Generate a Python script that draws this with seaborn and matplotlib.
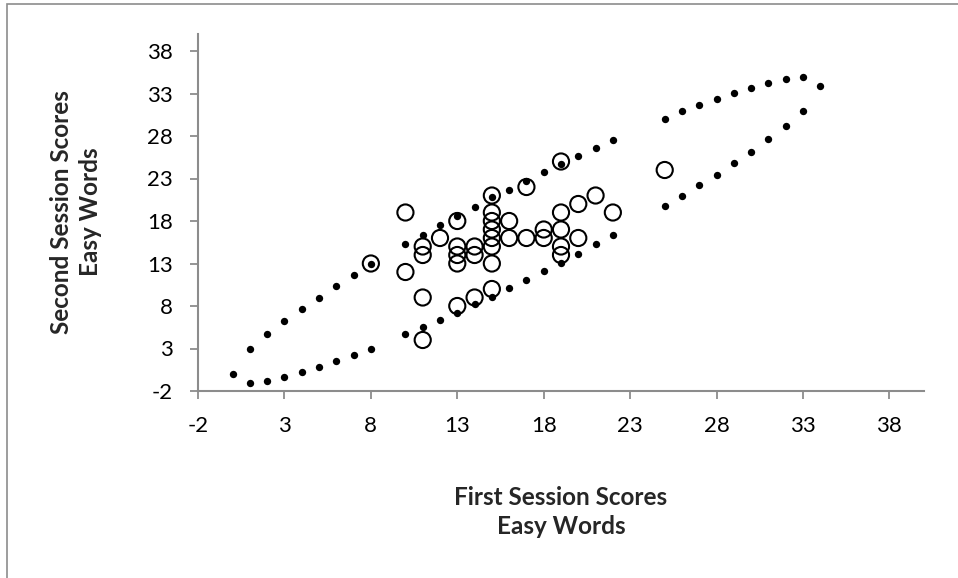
import matplotlib
matplotlib.use("Agg")
import matplotlib.pyplot as plt
from matplotlib.patches import Rectangle
import pandas as pd
import seaborn as sns

# Observed scores (open circles)
first_session = [8, 10, 10, 11, 11, 11, 11, 12, 13, 13, 13, 13, 13, 14, 14, 14,
                 15, 15, 15, 15, 15, 15, 15, 15, 16, 16, 17, 17, 18, 18,
                 19, 19, 19, 19, 19, 20, 20, 21, 22, 25]
second_session = [13, 19, 12, 15, 14, 9, 4, 16, 18, 15, 14, 13, 8, 15, 14, 9,
                  21, 19, 18, 17, 16, 15, 13, 10, 18, 16, 22, 16, 17, 16,
                  25, 19, 17, 15, 14, 20, 16, 21, 19, 24]

# Confidence ellipse (small filled dots)
ellipse_x = [1, 2, 3, 4, 5, 6, 7, 8, 10, 11, 12, 13, 14, 15, 16, 17, 18, 19,
             20, 21, 22, 25, 26, 27, 28, 29, 30, 31, 32, 33]
ellipse_upper = [2.9, 4.7, 6.2, 7.7, 9.0, 10.3, 11.6, 12.9, 15.3, 16.4, 17.5,
                 18.6, 19.7, 20.8, 21.7, 22.7, 23.8, 24.7, 25.7, 26.6, 27.5,
                 30.0, 30.9, 31.7, 32.4, 33.1, 33.7, 34.2, 34.7, 34.9]
ellipse_lower = [-1.0, -0.8, -0.4, 0.2, 0.8, 1.5, 2.2, 3.0, 4.7, 5.5, 6.3,
                 7.2, 8.2, 9.1, 10.1, 11.1, 12.1, 13.1, 14.1, 15.3, 16.4,
                 19.8, 21.0, 22.2, 23.4, 24.8, 26.1, 27.6, 29.2, 30.9]
ellipse_end_x = [0, 34]
ellipse_end_y = [0.0, 33.9]

x_ticks = [-2, 3, 8, 13, 18, 23, 28, 33, 38]
y_ticks = [-2, 3, 8, 13, 18, 23, 28, 33, 38]

sns.set_theme(style="white")
plt.rcParams['font.family'] = ['Lato', 'DejaVu Sans']

W, H = 958, 578
fig = plt.figure(figsize=(W / 100, H / 100), dpi=100)
ax = fig.add_axes([198 / W, 1 - 391 / H, (924 - 198) / W, (391 - 34) / H])

scores = pd.DataFrame({"first": first_session, "second": second_session})
ell = pd.DataFrame({
    "x": ellipse_x + ellipse_x + ellipse_end_x,
    "y": ellipse_upper + ellipse_lower + ellipse_end_y,
})

sns.scatterplot(data=scores, x="first", y="second", ax=ax, marker="o",
                s=135, facecolor="none", edgecolor="black", linewidth=1.5,
                zorder=3)
sns.scatterplot(data=ell, x="x", y="y", ax=ax, marker="o", s=28,
                color="black", edgecolor="black", linewidth=0, zorder=4)

ax.set_xlim(-2, 40)
ax.set_ylim(-2, 40)
ax.set_xticks(x_ticks)
ax.set_yticks(y_ticks)
ax.set_xticklabels([str(t) for t in x_ticks])
ax.set_yticklabels([str(t) for t in y_ticks])

gray = "#8c8c8c"
for side in ["top", "right"]:
    ax.spines[side].set_visible(False)
for side in ["left", "bottom"]:
    ax.spines[side].set_color(gray)
    ax.spines[side].set_linewidth(1.5)
ax.tick_params(axis="both", which="major", direction="out", length=6,
               width=1.3, color=gray, labelsize=16, labelcolor="black")
ax.tick_params(axis="x", pad=12, bottom=True)
ax.tick_params(axis="y", pad=12, left=True)
ax.grid(False)

ax.set_xlabel("")
ax.set_ylabel("")
fig.text(561 / W, 1 - 512 / H, "First Session Scores\nEasy Words",
         ha="center", va="center", fontsize=17.5, fontweight="bold",
         linespacing=1.3)
fig.text(76 / W, 1 - 212 / H, "Second Session Scores\nEasy Words",
         ha="center", va="center", fontsize=17.5, fontweight="bold",
         rotation=90, linespacing=1.3)

border = Rectangle((7 / W, -0.5), 2.0, 1.5 - 4 / H, transform=fig.transFigure,
                   fill=False, edgecolor=gray, linewidth=1.2, clip_on=False)
fig.patches.append(border)

fig.savefig("out.png", dpi=100)
